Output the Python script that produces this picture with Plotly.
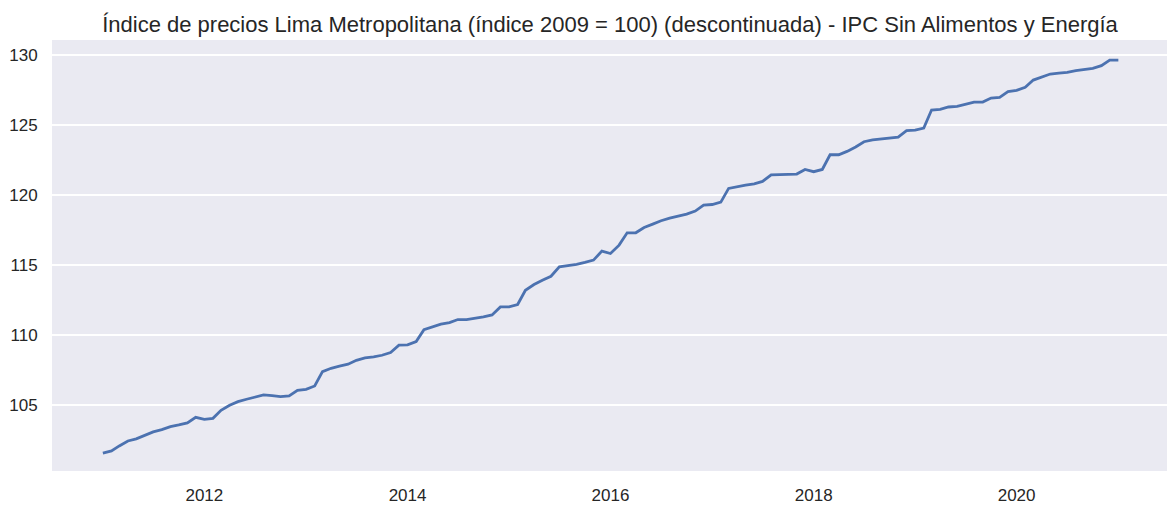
import plotly.graph_objects as go
import pandas as pd

dates = pd.date_range("2011-01-01", "2021-01-01", freq="MS").strftime("%Y-%m-%d").tolist()

values = [
    101.59, 101.74, 102.10, 102.45, 102.60, 102.88, 103.10, 103.26, 103.48, 103.60, 103.74, 104.14,
    104.00, 104.07, 104.64, 105.00, 105.26, 105.43, 105.57, 105.74, 105.69, 105.62, 105.67, 106.07,
    106.14, 106.38, 107.40, 107.64, 107.79, 107.93, 108.21, 108.38, 108.45, 108.57, 108.76, 109.29,
    109.31, 109.55, 110.40, 110.62, 110.79, 110.90, 111.12, 111.12, 111.19, 111.31, 111.45, 112.02,
    112.02, 112.19, 113.21, 113.62, 113.93, 114.21, 114.88, 114.95, 115.06, 115.20, 115.36, 116.00,
    115.83, 116.43, 117.31, 117.31, 117.69, 117.93, 118.17, 118.36, 118.50, 118.64, 118.86, 119.29,
    119.33, 119.50, 120.48, 120.62, 120.71, 120.81, 120.98, 121.45, 121.45, 121.45, 121.50, 121.83,
    121.67, 121.83, 122.88, 122.88, 123.12, 123.43, 123.81, 123.95, 124.00, 124.07, 124.14, 124.60,
    124.64, 124.79, 126.07, 126.12, 126.29, 126.33, 126.48, 126.64, 126.64, 126.93, 126.98, 127.38,
    127.48, 127.69, 128.21, 128.45, 128.64, 128.71, 128.76, 128.88, 128.95, 129.05, 129.24, 129.64,
    129.64,
]

title_text = "Índice de precios Lima Metropolitana (índice 2009 = 100) (descontinuada) - IPC Sin Alimentos y Energía"
y_ticks = [105, 110, 115, 120, 125, 130]

font_family = "Liberation Sans, Arial, sans-serif"
text_color = "#262626"

fig = go.Figure()
fig.add_trace(go.Scatter(
    x=dates, y=values, mode="lines",
    line=dict(color="#4C72B0", width=2.8),
    hoverinfo="x+y", showlegend=False,
))

fig.update_layout(
    width=1167, height=505,
    margin=dict(l=52, r=0, t=40, b=34),
    paper_bgcolor="white",
    plot_bgcolor="#EAEAF2",
    font=dict(family=font_family, color=text_color, size=17),
    title=dict(text=title_text, x=0.5227, xanchor="center", y=0.952, yanchor="middle",
               font=dict(size=22, family=font_family, color=text_color)),
)

fig.update_xaxes(
    type="date",
    range=["2010-07-02", "2021-06-25"],
    tick0="2012-01-01", dtick="M24", tickformat="%Y",
    showgrid=False, zeroline=False, showline=False,
    ticks="outside", ticklen=9, tickcolor="rgba(0,0,0,0)",
    tickfont=dict(size=17, color=text_color),
)
fig.update_yaxes(
    range=[100.31, 131.07],
    tickvals=y_ticks,
    showgrid=True, gridcolor="white", gridwidth=1.6,
    zeroline=False, showline=False,
    ticks="outside", ticklen=10, tickcolor="rgba(0,0,0,0)",
    tickfont=dict(size=17, color=text_color),
)

fig.write_html(
    "out.html",
    config={"displayModeBar": False},
    post_script="document.body.style.margin='0';document.body.style.overflow='hidden';",
)
